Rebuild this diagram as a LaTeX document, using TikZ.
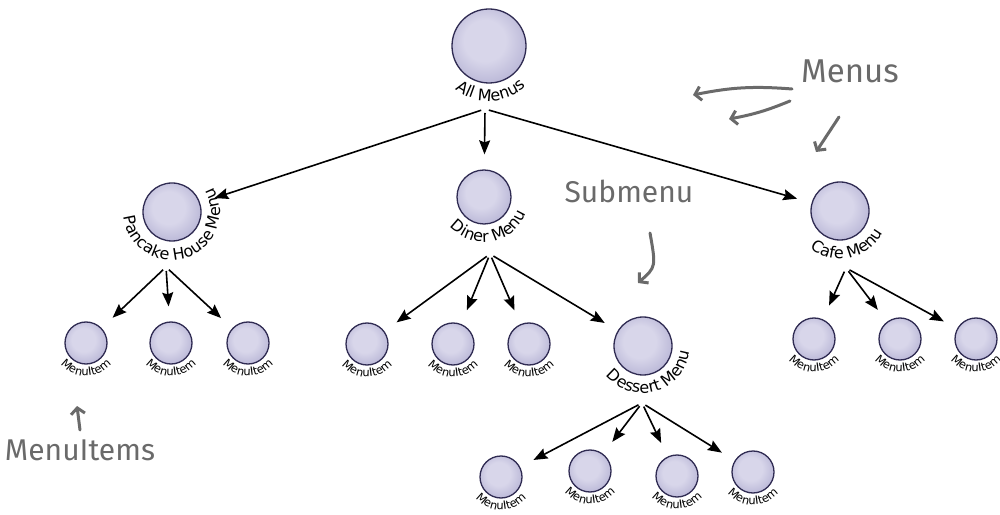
\documentclass[tikz,border=0pt]{standalone}
\usepackage{fontspec}
\newfontfamily\labelfont{DejaVu Sans}
\newfontfamily\annotfont{Fira Sans}
\usetikzlibrary{arrows.meta,decorations.text,calc}

\definecolor{ballin}{HTML}{D8D6EA}
\definecolor{ballmid}{HTML}{AAA7CD}
\definecolor{ballout}{HTML}{6C699E}
\definecolor{ballrim}{HTML}{2F2B52}
\definecolor{annotgray}{HTML}{6A6A6A}

\pgfdeclareradialshading{menuball}{\pgfpoint{-4bp}{5bp}}{color(0bp)=(ballin); color(14bp)=(ballin); color(36bp)=(ballmid); color(50bp)=(ballout)}

\newcommand\biglbl{\labelfont\fontsize{16pt}{18pt}\selectfont}
\newcommand\smalllbl{\labelfont\fontsize{11.5pt}{13pt}\selectfont}
% curved label under a ball: node, radius, mid angle, font, text
\newcommand\menulabel[5]{%
  \path[decorate,decoration={text along path,text align=center,text={|#4|#5}}]
    (#1) ++({#3-150}:#2) arc[start angle={#3-150},end angle={#3+150},radius=#2];}

\begin{document}
\begin{tikzpicture}[x=1pt,y=1pt,
  ball/.style={circle,draw=ballrim,line width=1.3pt,shading=menuball,minimum size=#1,inner sep=0pt},
  tree arrow/.style={-{Stealth[length=14pt,width=11pt,inset=2pt]},line width=1.6pt,shorten <=4pt,shorten >=15pt},
  annot/.style={text=annotgray,font=\annotfont\fontsize{30pt}{34pt}\selectfont},
  annot arrow/.style={-{Straight Barb[length=6pt,width=14pt]},draw=annotgray,line width=3pt,line cap=round}]
\useasboundingbox (0,0) rectangle (1000,514);

% Menus
\node[ball=74pt] (all) at (489,468) {};
\node[ball=58pt] (pan) at (172,302) {};
\node[ball=54pt] (din) at (484,317) {};
\node[ball=58pt] (caf) at (840,303) {};
\node[ball=58pt] (des) at (643,168) {};
\menulabel{all}{55}{272}{\biglbl}{All Menus}
\menulabel{pan}{48}{288}{\biglbl}{Pancake House Menu}
\menulabel{din}{45}{280}{\biglbl}{Diner Menu}
\menulabel{caf}{48}{282}{\biglbl}{Cafe Menu}
\menulabel{des}{47}{286}{\biglbl}{Dessert Menu}

% MenuItems
\foreach \n/\x/\y in {pi1/86/171,pi2/171/171,pi3/248/171,
                      di1/367/170,di2/453/170,di3/529/170,
                      ci1/814/175,ci2/900/175,ci3/976/175,
                      de1/501/37,de2/590/43,de3/677/38,de4/753/42}{
  \node[ball=42pt] (\n) at (\x,\y) {};
  \menulabel{\n}{33}{270}{\smalllbl}{MenuItem}
}

% arrows
\coordinate (all-out) at (485,405);
\coordinate (pan-out) at (166,247);
\coordinate (din-out) at (490,260);
\coordinate (caf-out) at (846,246);
\coordinate (des-out) at (642,111);
\foreach \c in {pan,din,caf} \draw[tree arrow] (all-out) -- (\c);
\foreach \c in {pi1,pi2,pi3} \draw[tree arrow] (pan-out) -- (\c);
\foreach \c in {di1,di2,di3,des} \draw[tree arrow] (din-out) -- (\c);
\foreach \c in {ci1,ci2,ci3} \draw[tree arrow] (caf-out) -- (\c);
\foreach \c in {de1,de2,de3,de4} \draw[tree arrow] (des-out) -- (\c);

% notes
\node[annot,font=\annotfont\fontsize{33pt}{36pt}\selectfont,anchor=base] (menus) at (850,431) {Menus};
\node[annot,anchor=base] (submenu) at (629,311) {Submenu};
\node[annot,anchor=base] (items) at (80,54) {MenuItems};
\coordinate (m1s) at (792,425); \coordinate (m1e) at (693,419);
\coordinate (m2s) at (790,413); \coordinate (m2e) at (729,395);
\coordinate (m3s) at (839,397); \coordinate (m3e) at (816,362);
\coordinate (ss) at (650,281);  \coordinate (se) at (638,231);
\coordinate (is) at (80,84);    \coordinate (ie) at (77,108);
\draw[annot arrow] (m1s) to[bend right=8] (m1e);
\draw[annot arrow] (m2s) to[bend left=6] (m2e);
\draw[annot arrow] (m3s) -- (m3e);
\draw[annot arrow] (ss) .. controls (656,247) .. (se);
\draw[annot arrow] (is) -- (ie);
\end{tikzpicture}
\end{document}
